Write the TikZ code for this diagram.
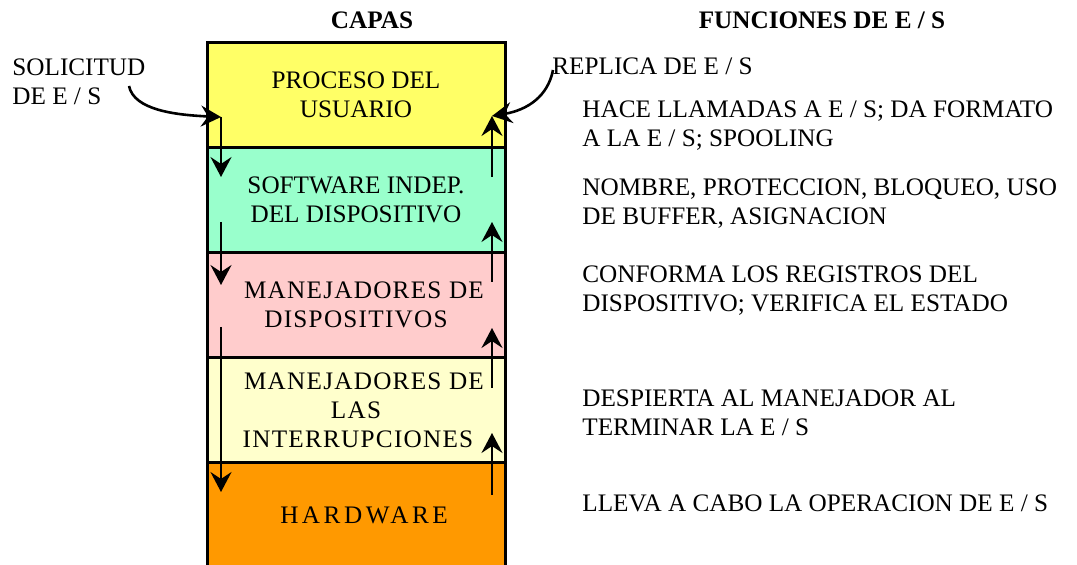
\documentclass[tikz,border=0pt]{standalone}
\usepackage{fontspec}
\setmainfont{Liberation Serif}
\usetikzlibrary{positioning,arrows.meta}
\definecolor{capausuario}{HTML}{FFFF66}
\definecolor{capasoft}{HTML}{99FFCC}
\definecolor{capadriver}{HTML}{FFCCCC}
\definecolor{capaint}{HTML}{FFFFCC}
\definecolor{capahw}{HTML}{FF9900}
\newcommand{\espaciado}[1]{{\addfontfeature{LetterSpace=5}#1}}
\newcommand{\muyespaciado}[1]{{\addfontfeature{LetterSpace=14}#1}}

\begin{document}
\begin{tikzpicture}[x=0.5pt, y=-0.5pt,
  every node/.style={font=\fontsize{12.6}{14.6}\selectfont},
  capa/.style={
    draw, line width=1.5pt,
    outer sep=0pt, inner sep=0pt,
    minimum width=149pt, minimum height=52.5pt,
    align=center
  },
  funcion/.style={anchor=west, align=left, inner sep=0pt},
  titulo/.style={font=\fontsize{12.6}{14.6}\selectfont\bfseries, inner sep=0pt},
  flujo/.style={-{Stealth[length=10pt, width=10.5pt, inset=3.5pt]}, line width=1.3pt}
]
  \useasboundingbox (0,0) rectangle (1077,565);

  % Titulos
  \node[titulo] (tcapas) at (372,20) {CAPAS};
  \node[titulo] (tfunc) at (822,20) {FUNCIONES DE E / S};

  % Pila de capas
  \node[capa, fill=capausuario] (usr) at (356,95) {PROCESO DEL\\USUARIO};
  \node[capa, fill=capasoft, below=0pt of usr] (soft) {SOFTWARE INDEP.\\DEL DISPOSITIVO};
  \node[capa, fill=capadriver, below=0pt of soft] (drv) {\hspace*{8pt}\espaciado{MANEJADORES DE}\\\espaciado{DISPOSITIVOS}};
  \node[capa, fill=capaint, below=0pt of drv] (intr) {\hspace*{8pt}\espaciado{MANEJADORES DE}\\\espaciado{LAS}\\\hspace*{2pt}\espaciado{INTERRUPCIONES}};
  \node[capa, fill=capahw, below=0pt of intr] (hw) {\hspace*{8pt}\muyespaciado{HARDWARE}};

  % Funciones de cada capa
  \node[funcion] (fusr) at (582,126) {HACE LLAMADAS A E / S; DA FORMATO\\A LA E / S; SPOOLING};
  \node[funcion] (fsoft) at (582,204) {NOMBRE, PROTECCION, BLOQUEO, USO\\DE BUFFER, ASIGNACION};
  \node[funcion] (fdrv) at (582,291) {CONFORMA LOS REGISTROS DEL\\DISPOSITIVO; VERIFICA EL ESTADO};
  \node[funcion] (fintr) at (582,413) {DESPIERTA AL MANEJADOR AL\\TERMINAR LA E / S};
  \node[funcion] (fhw) at (582,503) {LLEVA A CABO LA OPERACION DE E / S};

  % Solicitud y replica
  \node[funcion] (sol) at (12,82) {SOLICITUD\\DE E / S};
  \node[funcion] (rep) at (552,66) {REPLICA DE E / S};

  % Puntos de las flechas
  \coordinate (solini) at (129,86);
  \coordinate (repini) at (553,70);
  \coordinate (baja1) at (221,117);
  \coordinate (baja1f) at (221,177);
  \coordinate (baja2) at (221,222);
  \coordinate (baja2f) at (221,285);
  \coordinate (baja3) at (221,327);
  \coordinate (baja3f) at (221,492);
  \coordinate (sube1) at (492,177);
  \coordinate (sube1f) at (492,116);
  \coordinate (sube2) at (492,282);
  \coordinate (sube2f) at (492,222);
  \coordinate (sube3) at (492,388);
  \coordinate (sube3f) at (492,328);
  \coordinate (sube4) at (492,495);
  \coordinate (sube4f) at (492,433);

  % Flechas curvas
  \draw[flujo] (solini) .. controls (134,110) and (175,115) .. (baja1);
  \draw[flujo] (repini) .. controls (548,96) and (528,110) .. (sube1f);

  % Bajada de la solicitud
  \draw[flujo] (baja1) -- (baja1f);
  \draw[flujo] (baja2) -- (baja2f);
  \draw[flujo] (baja3) -- (baja3f);

  % Subida de la replica
  \draw[flujo] (sube1) -- (sube1f);
  \draw[flujo] (sube2) -- (sube2f);
  \draw[flujo] (sube3) -- (sube3f);
  \draw[flujo] (sube4) -- (sube4f);
\end{tikzpicture}
\end{document}
